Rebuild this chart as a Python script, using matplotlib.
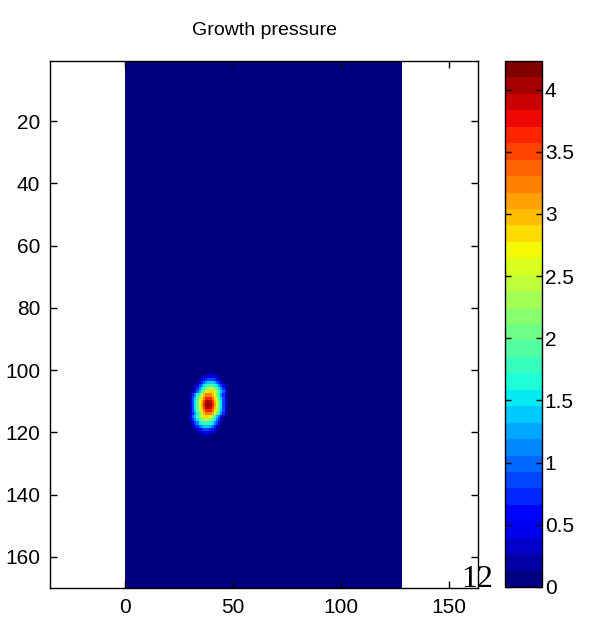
import numpy as np
import matplotlib
matplotlib.use("Agg")
import matplotlib.pyplot as plt

# grid size of the pressure field (columns x rows)
n_cols = 128
n_rows = 170

# values of the pressure blob
# rows y = 101..121, columns x = 29..48
blob_x0 = 29
blob_y0 = 101
blob = [
    [0, 0, 0, 0, 0, 0, 0.05, 0.08, 0.12, 0.17, 0.19, 0.17, 0.12, 0.08, 0.05, 0, 0, 0, 0, 0],
    [0, 0, 0, 0, 0.01, 0.07, 0.17, 0.29, 0.38, 0.43, 0.45, 0.43, 0.38, 0.29, 0.17, 0.07, 0.01, 0, 0, 0],
    [0, 0, 0, 0.02, 0.09, 0.24, 0.39, 0.62, 0.78, 0.88, 0.92, 0.88, 0.78, 0.62, 0.39, 0.24, 0.09, 0.02, 0, 0],
    [0, 0, 0, 0.07, 0.25, 0.49, 0.75, 1.03, 1.25, 1.4, 1.45, 1.4, 1.25, 1.03, 0.75, 0.49, 0.25, 0.07, 0, 0],
    [0, 0, 0.04, 0.19, 0.44, 0.8, 1.13, 1.46, 1.7, 1.84, 1.89, 1.84, 1.7, 1.46, 1.13, 0.8, 0.44, 0.19, 0.04, 0],
    [0, 0.01, 0.1, 0.34, 0.71, 1.15, 1.55, 1.86, 2.13, 2.32, 2.39, 2.32, 2.13, 1.86, 1.55, 1.15, 0.71, 0.34, 0.1, 0.01],
    [0, 0.03, 0.19, 0.5, 0.96, 1.44, 1.84, 2.23, 2.58, 2.79, 2.86, 2.79, 2.58, 2.23, 1.84, 1.44, 0.96, 0.5, 0.19, 0.03],
    [0.06, 0.28, 0.67, 1.17, 1.66, 2.11, 2.58, 2.95, 3.21, 3.3, 3.21, 2.95, 2.58, 2.11, 1.66, 1.17, 0.67, 0.28, 0.06, 0],
    [0.08, 0.34, 0.8, 1.35, 1.86, 2.38, 2.87, 3.28, 3.6, 3.7, 3.6, 3.28, 2.87, 2.38, 1.86, 1.35, 0.8, 0.34, 0.08, 0],
    [0.1, 0.38, 0.88, 1.46, 1.96, 2.55, 3.04, 3.51, 3.87, 4.03, 3.87, 3.51, 3.04, 2.55, 1.96, 1.46, 0.88, 0.38, 0.1, 0],
    [0.1, 0.4, 0.9, 1.5, 2.0, 2.6, 3.1, 3.6, 4.0, 4.2, 4.0, 3.6, 3.1, 2.6, 2.0, 1.5, 0.9, 0.4, 0.1, 0],
    [0.1, 0.38, 0.88, 1.46, 1.96, 2.55, 3.04, 3.51, 3.87, 4.03, 3.87, 3.51, 3.04, 2.55, 1.96, 1.46, 0.88, 0.38, 0.1, 0],
    [0.08, 0.34, 0.8, 1.35, 1.86, 2.38, 2.87, 3.28, 3.6, 3.7, 3.6, 3.28, 2.87, 2.38, 1.86, 1.35, 0.8, 0.34, 0.08, 0],
    [0.06, 0.28, 0.67, 1.17, 1.66, 2.11, 2.58, 2.95, 3.21, 3.3, 3.21, 2.95, 2.58, 2.11, 1.66, 1.17, 0.67, 0.28, 0.06, 0],
    [0.19, 0.5, 0.96, 1.44, 1.84, 2.23, 2.58, 2.79, 2.86, 2.79, 2.58, 2.23, 1.84, 1.44, 0.96, 0.5, 0.19, 0.03, 0, 0],
    [0.1, 0.34, 0.71, 1.15, 1.55, 1.86, 2.13, 2.32, 2.39, 2.32, 2.13, 1.86, 1.55, 1.15, 0.71, 0.34, 0.1, 0.01, 0, 0],
    [0.04, 0.19, 0.44, 0.8, 1.13, 1.46, 1.7, 1.84, 1.89, 1.84, 1.7, 1.46, 1.13, 0.8, 0.44, 0.19, 0.04, 0, 0, 0],
    [0, 0.07, 0.25, 0.49, 0.75, 1.03, 1.25, 1.4, 1.45, 1.4, 1.25, 1.03, 0.75, 0.49, 0.25, 0.07, 0, 0, 0, 0],
    [0, 0.02, 0.09, 0.24, 0.39, 0.62, 0.78, 0.88, 0.92, 0.88, 0.78, 0.62, 0.39, 0.24, 0.09, 0.02, 0, 0, 0, 0],
    [0, 0, 0.01, 0.07, 0.17, 0.29, 0.38, 0.43, 0.45, 0.43, 0.38, 0.29, 0.17, 0.07, 0.01, 0, 0, 0, 0, 0],
    [0, 0, 0, 0, 0.05, 0.08, 0.12, 0.17, 0.19, 0.17, 0.12, 0.08, 0.05, 0, 0, 0, 0, 0, 0, 0],
]
c_max = 4.23
x_ticks = [0, 50, 100, 150]
y_ticks = [20, 40, 60, 80, 100, 120, 140, 160]
cb_ticks = [0, 0.5, 1, 1.5, 2, 2.5, 3, 3.5, 4]
cb_labels = ["0", "0.5", "1", "1.5", "2", "2.5", "3", "3.5", "4"]

field = np.zeros((n_rows, n_cols))
b = np.array(blob)
field[blob_y0 - 1:blob_y0 - 1 + b.shape[0], blob_x0:blob_x0 + b.shape[1]] = b

plt.rcParams['font.family'] = ['Liberation Sans', 'DejaVu Sans']

fig = plt.figure(figsize=(5.89, 6.28), dpi=100)
ax = fig.add_axes([50/589, 40/628, 428/589, 527/628])
cax = fig.add_axes([505/589, 41/628, 37/589, 526/628])

cmap = plt.get_cmap('jet', 32)
im = ax.imshow(field, cmap=cmap, vmin=0, vmax=c_max, aspect='auto',
               extent=[0, n_cols, n_rows + 0.5, 0.5], interpolation='nearest')
ax.set_xlim(-34.7, 163.4)
ax.set_ylim(170, 0.7)
ax.set_xticks(x_ticks)
ax.set_yticks(y_ticks)
ax.tick_params(direction='in', top=True, right=True, length=5, width=1,
               labelsize=15, pad=7)
for s in ax.spines.values():
    s.set_linewidth(1)
ax.set_title("Growth pressure", fontsize=14, pad=19)

cb = fig.colorbar(im, cax=cax)
cb.set_ticks(cb_ticks)
cb.set_ticklabels(cb_labels)
cax.tick_params(direction='in', left=True, right=True, length=4, width=1,
                labelsize=15, pad=2)
cb.outline.set_linewidth(1)

fig.text(461/589, 41/628, "12", family='Liberation Serif', fontsize=23,
         va='baseline', ha='left')

fig.savefig("out.png", dpi=100)
